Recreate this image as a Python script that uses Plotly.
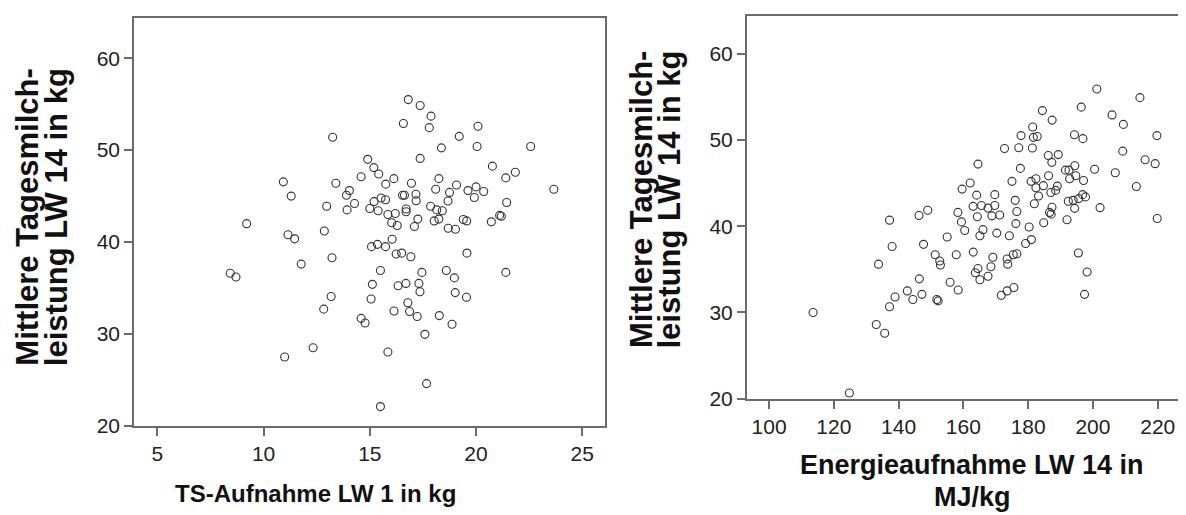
import plotly.graph_objects as go

# Left chart: TS-Aufnahme LW 1 (kg) vs. mittlere Tagesmilchleistung LW 14 (kg)
ts_intake = [
    13.25, 10.93, 13.4, 11.3, 13.9, 14.04, 12.97, 13.93, 9.2, 11.15, 11.46, 12.86, 13.22, 11.77,
    8.43, 8.7, 13.18, 12.83, 12.33, 10.99,
    16.81, 17.37, 17.88, 16.58, 17.8, 20.09, 19.21, 20.05, 22.57, 18.37, 17.37, 14.9, 15.19, 20.77,
    15.42, 14.59, 16.13, 21.85, 21.4, 15.75, 16.96, 18.25, 19.08, 20.0, 19.62, 20.36, 19.92, 18.1,
    18.75, 18.68, 23.66, 14.28, 15.2, 15.53, 15.74, 16.54, 16.63, 17.17, 17.18, 15.0, 15.39, 15.85,
    16.2, 16.71, 16.71, 17.86, 18.15, 18.41, 21.44, 16.03, 16.29, 17.1, 17.26, 18.03, 18.25, 18.69,
    19.03, 19.4, 19.56, 20.72, 21.11, 21.19, 15.08, 15.36, 15.74, 16.05, 16.24, 16.5, 16.93, 19.57,
    15.5, 17.45, 18.6, 18.98, 21.4,
    15.12, 16.33, 16.7, 17.31, 17.36, 15.06, 19.02, 19.55, 16.79, 16.14, 16.87, 17.23, 14.59, 14.78,
    18.27, 18.87, 17.59, 15.85, 17.67, 15.5,
]
milk_left = [
    51.4, 46.55, 46.4, 45.0, 45.1, 45.6, 43.9, 43.5, 42.0, 40.8, 40.35, 41.2, 38.3, 37.6,
    36.6, 36.2, 34.07, 32.7, 28.5, 27.5,
    55.5, 54.85, 53.7, 52.9, 52.45, 52.6, 51.5, 50.4, 50.4, 50.25, 49.1, 49.0, 48.1, 48.26,
    47.4, 47.1, 46.9, 47.6, 46.98, 46.3, 46.4, 46.9, 46.2, 46.0, 45.6, 45.5, 44.85, 45.75,
    45.4, 44.47, 45.75, 44.2, 44.4, 44.8, 44.6, 45.1, 45.1, 45.2, 44.5, 43.65, 43.4, 43.0,
    43.1, 43.6, 43.3, 43.9, 43.5, 43.4, 44.3, 42.1, 41.8, 41.7, 42.5, 42.3, 42.5, 41.5,
    41.4, 42.45, 42.3, 42.2, 42.9, 42.8, 39.5, 39.75, 39.5, 40.3, 38.7, 38.8, 38.4, 38.8,
    36.9, 36.7, 36.9, 36.1, 36.7,
    35.4, 35.25, 35.5, 35.5, 34.6, 33.8, 34.5, 34.0, 33.4, 32.5, 32.45, 31.9, 31.7, 31.2,
    32.0, 31.06, 29.96, 28.04, 24.6, 22.1,
]

# Right chart: Energieaufnahme LW 14 (MJ) vs. mittlere Tagesmilchleistung LW 14 (kg)
energy_intake = [
    113.6, 124.8, 133.1, 135.7, 137.2, 138.9, 133.8, 138.0, 142.7, 144.4, 146.4, 147.2, 147.7,
    151.3, 152.7, 152.9, 151.8, 152.2, 155.9, 158.4, 157.8,
    159.6, 137.2, 146.3, 149.0, 158.3, 159.4, 160.4, 155.0,
    201.2, 214.5, 184.4, 196.4, 205.9, 187.4, 209.4, 181.4, 177.8, 181.6, 182.8, 194.3, 196.9,
    219.75, 172.7, 177.1, 181.3, 186.2, 189.3, 187.3, 209.2, 216.1, 219.2, 164.5, 177.6, 191.5,
    192.6, 194.4, 200.5, 206.9, 186.3, 192.8, 194.7, 197.1, 175.0, 180.9, 182.4, 182.4, 184.7,
    189.0, 188.5, 187.0, 183.2, 213.4, 162.1, 164.1, 169.7, 163.0, 165.6, 167.6, 169.7, 164.3,
    168.8, 171.2, 176.0, 176.5, 181.9, 187.35, 186.6, 187.1, 192.4, 193.9, 195.6, 196.8, 197.7,
    194.35, 202.2, 192.0, 219.85, 166.05, 165.1, 170.3, 174.2, 176.2, 180.3, 184.8, 181.0, 179.2,
    163.05, 169.1, 173.5, 175.4, 176.5, 195.5,
    163.7, 164.5, 165.1, 167.6, 168.5, 173.7, 171.7, 173.5, 175.6, 198.2, 197.4,
]
milk_right = [
    30.0, 20.67, 28.6, 27.6, 30.67, 31.8, 35.6, 37.65, 32.5, 31.5, 33.9, 32.1, 37.9,
    36.7, 35.96, 35.5, 31.5, 31.35, 33.5, 32.6, 36.7,
    44.3, 40.7, 41.25, 41.85, 41.6, 40.5, 39.5, 38.75,
    55.9, 54.9, 53.4, 53.8, 52.9, 52.3, 51.8, 51.5, 50.5, 50.3, 50.4, 50.6, 50.15,
    50.5, 49.0, 49.1, 49.06, 48.2, 48.3, 47.4, 48.7, 47.7, 47.25, 47.2, 46.7, 46.5,
    46.5, 47.0, 46.6, 46.2, 45.85, 45.5, 45.85, 45.3, 45.2, 45.2, 45.5, 44.45, 44.7,
    44.65, 44.15, 43.9, 43.5, 44.6, 45.0, 43.6, 43.66, 42.3, 42.4, 42.1, 42.4, 41.1,
    41.2, 41.3, 43.0, 41.7, 42.6, 42.2, 41.6, 41.4, 42.9, 43.0, 43.2, 43.66, 43.4,
    42.07, 42.15, 40.75, 40.9, 39.6, 38.9, 39.2, 38.9, 40.3, 39.9, 40.4, 38.45, 38.0,
    37.0, 36.4, 36.2, 36.7, 36.8, 36.9,
    34.6, 35.1, 33.8, 34.2, 35.3, 35.6, 32.0, 32.5, 32.9, 34.7, 32.1,
]

left_x_ticks = [5, 10, 15, 20, 25]
right_x_ticks = [100, 120, 140, 160, 180, 200, 220]
y_ticks = [20, 30, 40, 50, 60]

y_title_1 = "Mittlere Tagesmilch-"
y_title_2 = "leistung LW 14 in kg"
left_x_title = "TS-Aufnahme LW 1 in kg"
right_x_title_1 = "Energieaufnahme LW 14 in"
right_x_title_2 = "MJ/kg"

W, H = 1186, 515
AXC = "#6b6b6b"
FONT = "Liberation Sans, Arial, sans-serif"

def px(x):
    return x / W

def py(y):
    return 1 - y / H

marker = dict(symbol="circle-open", size=8, color="#333333", line=dict(width=1.1, color="#333333"))

fig = go.Figure()
fig.add_trace(go.Scatter(x=ts_intake, y=milk_left, mode="markers", marker=marker,
                         xaxis="x", yaxis="y", showlegend=False, hoverinfo="x+y"))
fig.add_trace(go.Scatter(x=energy_intake, y=milk_right, mode="markers", marker=marker,
                         xaxis="x2", yaxis="y2", showlegend=False, hoverinfo="x+y"))

axis_common = dict(showline=True, linecolor=AXC, linewidth=1.5, ticks="outside", ticklen=8,
                   tickwidth=1.5, tickcolor=AXC, showgrid=False, zeroline=False,
                   tickfont=dict(family=FONT, size=21, color="#222222"))

fig.update_layout(
    width=W, height=H,
    margin=dict(l=0, r=0, t=0, b=0),
    paper_bgcolor="white", plot_bgcolor="white",
    xaxis=dict(domain=[px(126), px(597)], range=[3.9, 26.07], tickvals=left_x_ticks,
               anchor="y", mirror=True, **axis_common),
    yaxis=dict(domain=[py(427), py(10)], range=[20, 64.4], tickvals=y_ticks,
               anchor="x", mirror=True, **axis_common),
    xaxis2=dict(domain=[px(738.7), 1.0], range=[93.1, 231.2], tickvals=right_x_ticks,
                anchor="y2", mirror=True, **axis_common),
    yaxis2=dict(domain=[py(399.3), py(8.3)], range=[20, 64.35], tickvals=y_ticks,
                anchor="x2", mirror=False, **axis_common),
)

tfont = dict(family=FONT, size=31, color="#111111")
xfont = dict(family=FONT, size=27, color="#111111")
lfont = dict(family=FONT, size=24, color="#111111")
ann = []
# left y title
ann.append(dict(text="<b>" + y_title_1 + "</b>", x=px(20), y=py(368), xref="paper", yref="paper",
                xanchor="center", yanchor="bottom", textangle=-90, showarrow=False, font=tfont))
ann.append(dict(text="<b>" + y_title_2 + "</b>", x=px(48), y=py(368), xref="paper", yref="paper",
                xanchor="center", yanchor="bottom", textangle=-90, showarrow=False, font=tfont))
# right y title
ann.append(dict(text="<b>" + y_title_1 + "</b>", x=px(633), y=py(350), xref="paper", yref="paper",
                xanchor="center", yanchor="bottom", textangle=-90, showarrow=False, font=tfont))
ann.append(dict(text="<b>" + y_title_2 + "</b>", x=px(662), y=py(350), xref="paper", yref="paper",
                xanchor="center", yanchor="bottom", textangle=-90, showarrow=False, font=tfont))
# x titles
ann.append(dict(text="<b>" + left_x_title + "</b>", x=px(307), y=py(496), xref="paper", yref="paper",
                xanchor="center", yanchor="middle", showarrow=False, font=lfont))
ann.append(dict(text="<b>" + right_x_title_1 + "</b>", x=px(964), y=py(467), xref="paper", yref="paper",
                xanchor="center", yanchor="middle", showarrow=False, font=xfont))
ann.append(dict(text="<b>" + right_x_title_2 + "</b>", x=px(964), y=py(500), xref="paper", yref="paper",
                xanchor="center", yanchor="middle", showarrow=False, font=xfont))
fig.update_layout(annotations=ann)

fig.write_html("out.html")
